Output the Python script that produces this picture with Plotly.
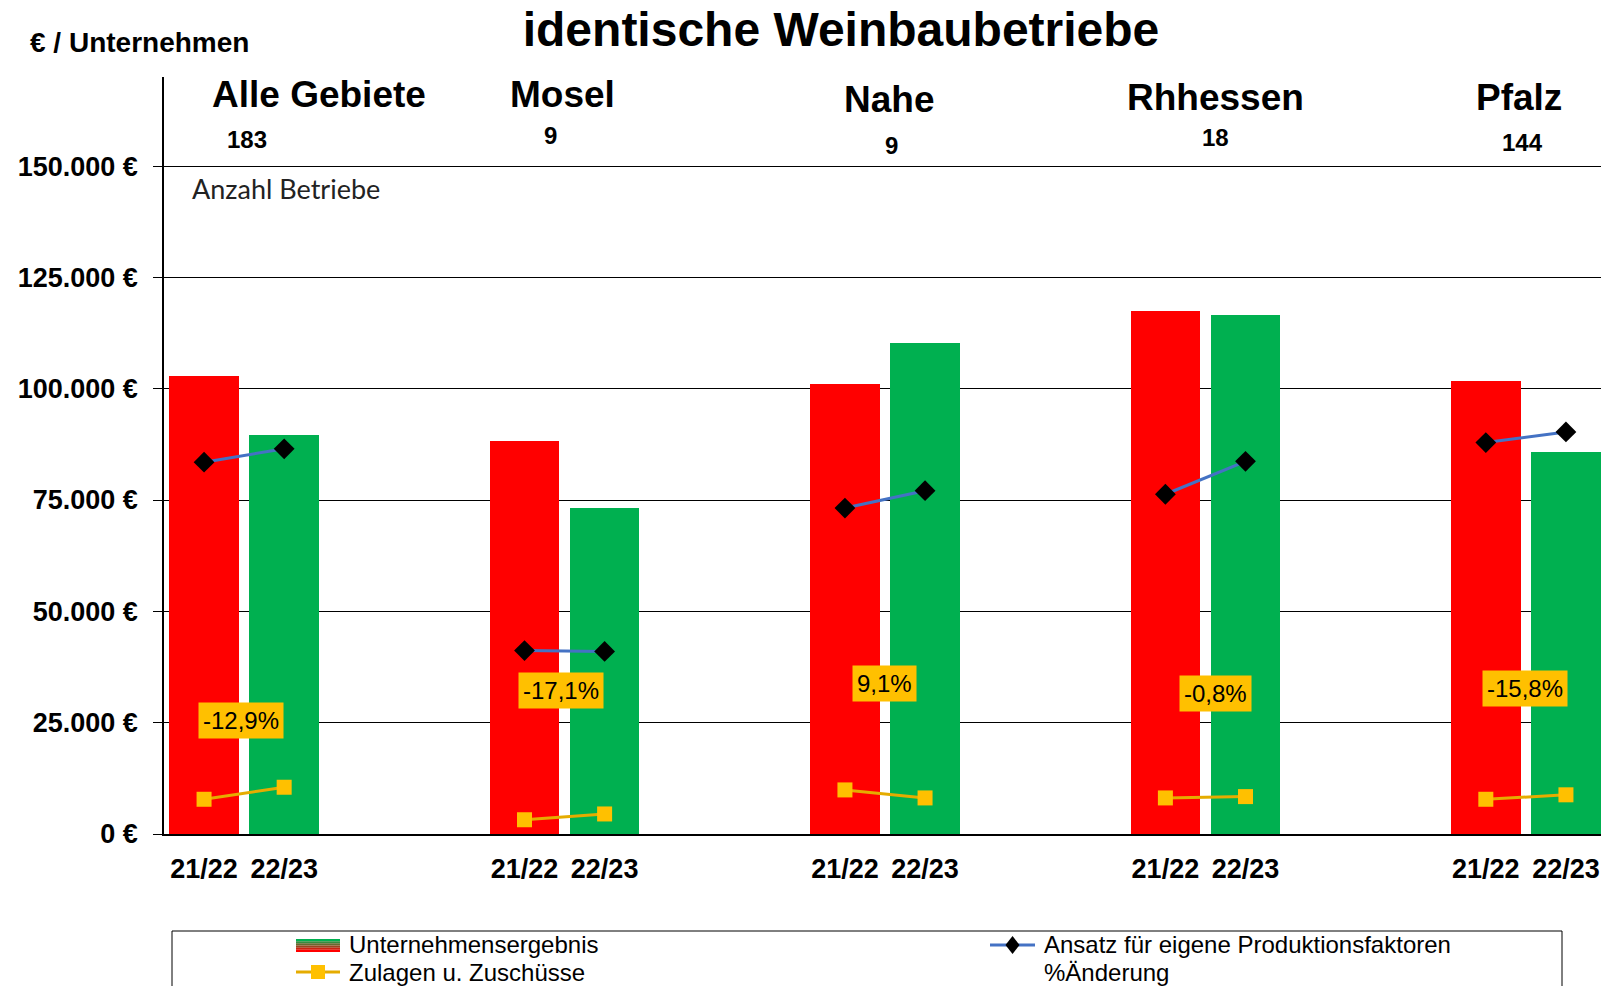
import plotly.graph_objects as go

# ---------------- data ----------------
regions = ["Alle Gebiete", "Mosel", "Nahe", "Rhhessen", "Pfalz"]
betriebe = [183, 9, 9, 18, 144]
seasons = ["21/22", "22/23"]
ergebnis_2122 = [102800, 88200, 101000, 117450, 101800]
ergebnis_2223 = [89500, 73100, 110200, 116500, 85700]
ansatz_2122 = [83500, 41200, 73200, 76300, 87900]
ansatz_2223 = [86500, 41000, 77100, 83700, 90300]
zulagen_2122 = [7800, 3200, 9900, 8100, 7800]
zulagen_2223 = [10500, 4500, 8100, 8400, 8800]
aenderung = [-12.9, -17.1, 9.1, -0.8, -15.8]
y_ticks = [0, 25000, 50000, 75000, 100000, 125000, 150000]
legend_names = ["Unternehmensergebnis", "Zulagen u. Zuschüsse",
                "Ansatz für eigene Produktionsfaktoren", "%Änderung"]

# ---------------- layout (positions / styles only) ----------------
# reference pixel frame; the page body adds an 8px margin, so the figure is
# shrunk by that offset and positions are given in reference pixels.
W_REF, H_REF, OFF = 1609, 986, 8
PL, PR, PT, PB = 164, 1606, 77, 834          # plot area in reference pixels
W, H = W_REF - OFF, H_REF - OFF
ML, MT = PL - OFF, PT - OFF
MR = W - (PR - OFF)
MB = H - (PB - OFF)
PW, PH = PR - PL, PB - PT


def px2x(px):
    return (px - PL) / PW


def py2y(py):
    return (PB - py) / PH


GROUP_STEP = 4
header_x = [1.43, 4.48, 8.55, 12.63, 16.41]
header_py = [94, 94, 100, 97, 97]
count_x = [0.54, 4.32, 8.58, 12.62, 16.46]
count_py = [139, 136, 145, 137, 142]
pct_x = [0.46, 4.46, 8.49, 12.63, 16.49]
pct_y = [25540, 32290, 33870, 31620, 32740]

FONT = "Liberation Sans, Arial, sans-serif"
RED = "#FF0000"
GREEN = "#00B050"
ORANGE = "#FFC000"
ORANGE_LINE = "#E5AC00"
BLUE = "#4472C4"

bar_x, bar_y, bar_c, tick_vals, tick_text = [], [], [], [], []
line_x = []
ans_y, zul_y = [], []
for i in range(len(regions)):
    x0 = i * GROUP_STEP
    bar_x += [x0, x0 + 1]
    bar_y += [ergebnis_2122[i], ergebnis_2223[i]]
    bar_c += [RED, GREEN]
    tick_vals += [x0, x0 + 1]
    tick_text += seasons
    line_x += [x0, x0 + 1, None]
    ans_y += [ansatz_2122[i], ansatz_2223[i], None]
    zul_y += [zulagen_2122[i], zulagen_2223[i], None]

fig = go.Figure()
fig.add_trace(go.Bar(
    x=bar_x, y=bar_y, width=0.87, marker=dict(color=bar_c, line=dict(width=0)),
    name=legend_names[0], showlegend=False,
))
fig.add_trace(go.Scatter(
    x=line_x, y=zul_y, mode="lines+markers", name=legend_names[1],
    line=dict(color=ORANGE_LINE, width=3),
    marker=dict(symbol="square", size=15, color=ORANGE),
    showlegend=False, connectgaps=False,
))
fig.add_trace(go.Scatter(
    x=line_x, y=ans_y, mode="lines+markers", name=legend_names[2],
    line=dict(color=BLUE, width=3),
    marker=dict(symbol="diamond", size=16, color="black"),
    showlegend=False, connectgaps=False,
))

annotations = []
for i, r in enumerate(regions):
    annotations.append(dict(x=header_x[i], y=py2y(header_py[i]), xref="x", yref="paper",
                            text=f"<b>{r}</b>", showarrow=False,
                            font=dict(family=FONT, size=37, color="black"),
                            xanchor="center", yanchor="middle"))
    annotations.append(dict(x=count_x[i], y=py2y(count_py[i]), xref="x", yref="paper",
                            text=f"<b>{betriebe[i]}</b>", showarrow=False,
                            font=dict(family=FONT, size=24, color="black"),
                            xanchor="center", yanchor="middle"))
    label = f"{aenderung[i]:.1f}".replace(".", ",") + "%"
    annotations.append(dict(x=pct_x[i], y=pct_y[i], xref="x", yref="y",
                            text=label, showarrow=False, bgcolor=ORANGE, borderpad=4,
                            font=dict(family=FONT, size=24, color="black"),
                            xanchor="center", yanchor="middle"))

annotations.append(dict(x=px2x(28), y=py2y(42), xref="paper", yref="paper",
                        text="<b>€ / Unternehmen</b>", showarrow=False,
                        font=dict(family=FONT, size=28, color="black"),
                        xanchor="left", yanchor="middle"))
annotations.append(dict(x=px2x(190), y=py2y(188), xref="paper", yref="paper",
                        text="Anzahl Betriebe", showarrow=False,
                        font=dict(family="Lato, Open Sans, sans-serif", size=27, color="#222"),
                        xanchor="left", yanchor="middle"))

# ---------------- manual legend ----------------
LEG_FONT = dict(family=FONT, size=24, color="black")
row_py = [945, 972]
col_sym = [(296, 340), (990, 1035)]
col_text = [347, 1042]
leg_items = [(0, 0, legend_names[0]), (0, 1, legend_names[1]),
             (1, 0, legend_names[2]), (1, 1, legend_names[3])]
for col, row, name in leg_items:
    annotations.append(dict(x=px2x(col_text[col]), y=py2y(row_py[row]), xref="paper", yref="paper",
                            text=name, showarrow=False, font=LEG_FONT,
                            xanchor="left", yanchor="middle"))

shapes = [
    dict(type="rect", xref="paper", yref="paper", x0=px2x(172), x1=px2x(1562),
         y0=py2y(931), y1=py2y(1000),
         line=dict(color="black", width=1), fillcolor="rgba(0,0,0,0)", layer="above"),
    dict(type="line", xref="paper", yref="paper", x0=1, x1=1, y0=0, y1=1,
         line=dict(color="#BFBFBF", width=1)),
]


def mix(c1, c2, t):
    a = [int(c1[k:k + 2], 16) for k in (1, 3, 5)]
    b = [int(c2[k:k + 2], 16) for k in (1, 3, 5)]
    return "#" + "".join(f"{round(a[j] + (b[j] - a[j]) * t):02X}" for j in range(3))


# gradient swatch (green top -> red bottom)
sw_top, sw_bot = 939, 952
n_str = 6
for k in range(n_str):
    t = k / (n_str - 1)
    y0 = sw_top + (sw_bot - sw_top) * k / n_str
    y1 = sw_top + (sw_bot - sw_top) * (k + 1) / n_str
    shapes.append(dict(type="rect", xref="paper", yref="paper",
                       x0=px2x(col_sym[0][0]), x1=px2x(col_sym[0][1]),
                       y0=py2y(y0), y1=py2y(y1), line=dict(width=0),
                       fillcolor=mix(GREEN, RED, t), layer="above"))

# Zulagen symbol: line + square
cx = (col_sym[0][0] + col_sym[0][1]) / 2
shapes.append(dict(type="line", xref="paper", yref="paper",
                   x0=px2x(col_sym[0][0]), x1=px2x(col_sym[0][1]),
                   y0=py2y(row_py[1]), y1=py2y(row_py[1]),
                   line=dict(color=ORANGE_LINE, width=3), layer="above"))
shapes.append(dict(type="rect", xref="paper", yref="paper",
                   x0=px2x(cx - 7), x1=px2x(cx + 7),
                   y0=py2y(row_py[1] - 7), y1=py2y(row_py[1] + 7),
                   line=dict(width=0), fillcolor=ORANGE, layer="above"))
# Ansatz symbol: line + diamond
cx2 = (col_sym[1][0] + col_sym[1][1]) / 2
shapes.append(dict(type="line", xref="paper", yref="paper",
                   x0=px2x(col_sym[1][0]), x1=px2x(col_sym[1][1]),
                   y0=py2y(row_py[0]), y1=py2y(row_py[0]),
                   line=dict(color=BLUE, width=3), layer="above"))
dpath = "M {} {} L {} {} L {} {} L {} {} Z".format(
    px2x(cx2), py2y(row_py[0] - 9), px2x(cx2 + 7), py2y(row_py[0]),
    px2x(cx2), py2y(row_py[0] + 9), px2x(cx2 - 7), py2y(row_py[0]))
shapes.append(dict(type="path", xref="paper", yref="paper", path=dpath,
                   line=dict(width=0), fillcolor="black", layer="above"))

fig.update_layout(
    width=W, height=H,
    margin=dict(l=ML, r=MR, t=MT, b=MB, autoexpand=False),
    paper_bgcolor="white", plot_bgcolor="white",
    separators=",.",
    title=dict(text="<b>identische Weinbaubetriebe</b>", x=(841 - OFF) / W, xref="container",
               xanchor="center", y=1 - (29 - OFF) / H, yref="container", yanchor="middle",
               font=dict(family=FONT, size=48, color="black")),
    showlegend=False,
    annotations=annotations,
    shapes=shapes,
    bargap=0,
)
fig.update_xaxes(
    range=[-0.5, 17.5], tickmode="array", tickvals=tick_vals,
    ticktext=[f"<b>{t}</b>" for t in tick_text],
    tickfont=dict(family=FONT, size=27, color="black"),
    ticks="outside", ticklen=10, tickcolor="rgba(0,0,0,0)", automargin=False,
    showgrid=False, showline=True, linecolor="black", linewidth=1.5, zeroline=False,
)
fig.update_yaxes(
    range=[0, 170000], tickmode="array", tickvals=y_ticks,
    ticktext=[f"<b>{v:,.0f} €</b>".replace(",", ".") for v in y_ticks],
    tickfont=dict(family=FONT, size=27, color="black"),
    ticks="outside", ticklen=9, tickcolor="black", ticklabelstandoff=10, automargin=False,
    showgrid=True, gridcolor="black", gridwidth=1,
    showline=True, linecolor="black", linewidth=1.5, zeroline=False,
)

fig.write_html("out.html")
